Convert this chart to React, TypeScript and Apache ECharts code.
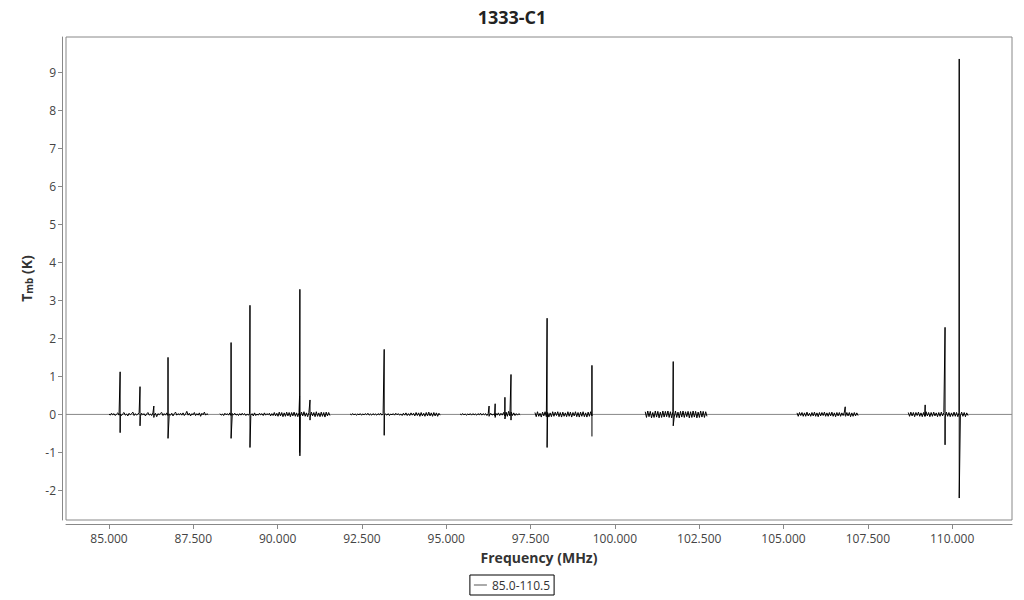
import React, { useEffect, useRef } from "react";
import * as echarts from "echarts";

const chartTitle = "1333-C1";
const seriesName = "85.0-110.5";
const xTicks = [85, 87.5, 90, 92.5, 95, 97.5, 100, 102.5, 105, 107.5, 110];
const yTicks = [-2, -1, 0, 1, 2, 3, 4, 5, 6, 7, 8, 9];
const xMin = 83.725;
const xMax = 111.775;
const yMin = -2.7775;
const yMax = 9.9275;

// observed frequency windows (MHz)
const segmentStarts = [85.0, 88.29, 92.15, 95.41, 97.63, 100.9, 105.4, 108.7];
const segmentEnds = [87.94, 91.55, 94.82, 97.19, 99.32, 102.73, 107.21, 110.47];

// baseline noise (K)
const noise1 = [0.01, -0.02, 0.03, -0.01, 0.02, -0.03, 0.01, 0.04, -0.02, 0.01, -0.03, 0.02, 0.05, -0.02, 0.01, -0.04, 0.03, -0.01, 0.02, 0.06, -0.03, 0.02, -0.02, 0.01, 0.04, -0.05, 0.03, -0.01, 0.02, -0.04, 0.01, 0.05, -0.02, 0.01, -0.03, 0.04, -0.02, 0.03, -0.06, 0.02, -0.01, 0.03, 0.05, -0.03, 0.02, -0.02, 0.04, -0.03, 0.01, -0.02, 0.03, -0.04, 0.02, 0.06, -0.02, 0.02, -0.01, 0.03, -0.02, 0.04, -0.03, 0.01, 0.08, -0.02, 0.03, -0.04, 0.02, -0.01, 0.05, -0.03, 0.02, -0.02, 0.04, -0.05, 0.03, -0.01, 0.06, -0.02, 0.02, -0.01];
const noise2 = [0.02, -0.02, 0.01, -0.03, 0.03, -0.01, 0.02, -0.02, 0.04, -0.03, 0.02, -0.01, 0.03, -0.02, 0.01, -0.03, 0.02, -0.02, 0.03, -0.01, 0.02, -0.03, 0.01, -0.02, 0.03, -0.02, 0.02, -0.04, 0.04, -0.03, 0.01, -0.02, 0.03, -0.01, 0.02, -0.03, 0.04, -0.02, 0.02, -0.01, 0.03, -0.04, 0.02, -0.03, 0.05, -0.04, 0.03, -0.05, 0.06, -0.04, 0.05, -0.06, 0.04, -0.05, 0.06, -0.04, 0.05, -0.06, 0.05, -0.04, 0.06, -0.05, 0.04, -0.06, 0.05, -0.05, 0.06, -0.04, 0.07, -0.05, 0.04, -0.06, 0.05, -0.07, 0.06, -0.04, 0.05, -0.06, 0.07, -0.05, 0.04, -0.06, 0.06, -0.05, 0.05, -0.07, 0.06, -0.04, 0.05, -0.03];
const noise3 = [0.01, -0.01, 0.02, -0.01, 0.01, -0.02, 0.01, -0.01, 0.02, -0.02, 0.01, -0.01, 0.02, -0.01, 0.03, -0.02, 0.01, -0.02, 0.02, -0.01, 0.01, -0.02, 0.02, -0.01, 0.03, -0.02, 0.02, -0.01, 0.01, -0.02, 0.02, -0.03, 0.01, -0.01, 0.02, -0.02, 0.03, -0.01, 0.02, -0.02, 0.01, -0.03, 0.03, -0.02, 0.04, -0.03, 0.02, -0.03, 0.04, -0.02, 0.03, -0.04, 0.05, -0.03, 0.04, -0.05, 0.05, -0.04, 0.03, -0.05, 0.05, -0.04, 0.06, -0.04, 0.04, -0.05, 0.05, -0.04, 0.04, -0.05, 0.03, -0.02];
const noise4 = [0.01, -0.01, 0.02, -0.01, 0.01, -0.02, 0.01, -0.01, 0.02, -0.02, 0.02, -0.01, 0.01, -0.02, 0.02, -0.01, 0.03, -0.02, 0.02, -0.01, 0.02, -0.03, 0.02, -0.02, 0.03, -0.02, 0.01, -0.03, 0.03, -0.02, 0.04, -0.03, 0.03, -0.02, 0.05, -0.04, 0.06, -0.05, 0.08, -0.04, 0.06, -0.03, 0.04, -0.03, 0.02, -0.02, 0.02, -0.01];
const noise5 = [0.05, -0.06, 0.07, -0.05, 0.03, -0.07, 0.06, -0.04, 0.07, -0.06, 0.05, -0.07, 0.04, -0.06, 0.07, -0.05, 0.06, -0.03, 0.07, -0.06, 0.05, -0.07, 0.06, -0.05, 0.04, -0.06, 0.07, -0.05, 0.06, -0.07, 0.05, -0.04, 0.07, -0.06, 0.05, -0.07, 0.06, -0.05, 0.07, -0.06, 0.04, -0.07, 0.06, -0.05, 0.07, -0.04];
const noise6 = [0.07, -0.08, 0.09, -0.06, 0.08, -0.09, 0.05, -0.08, 0.09, -0.07, 0.08, -0.09, 0.06, -0.08, 0.09, -0.07, 0.08, -0.06, 0.09, -0.08, 0.07, -0.09, 0.08, -0.07, 0.09, -0.08, 0.06, -0.09, 0.08, -0.07, 0.09, -0.08, 0.07, -0.06, 0.08, -0.09, 0.07, -0.08, 0.09, -0.07, 0.08, -0.09, 0.06, -0.08, 0.09, -0.07, 0.08, -0.08, 0.07, -0.05];
const noise7 = [0.04, -0.05, 0.05, -0.03, 0.05, -0.05, 0.04, -0.05, 0.06, -0.04, 0.03, -0.05, 0.05, -0.04, 0.06, -0.05, 0.04, -0.06, 0.05, -0.04, 0.05, -0.03, 0.06, -0.05, 0.04, -0.05, 0.05, -0.04, 0.06, -0.05, 0.04, -0.06, 0.05, -0.04, 0.05, -0.05, 0.04, -0.03, 0.06, -0.05, 0.05, -0.04, 0.05, -0.06, 0.04, -0.05, 0.05, -0.04, 0.04, -0.03];
const noise8 = [0.05, -0.05, 0.06, -0.04, 0.05, -0.06, 0.05, -0.03, 0.06, -0.05, 0.04, -0.06, 0.05, -0.05, 0.07, -0.04, 0.05, -0.06, 0.05, -0.05, 0.06, -0.04, 0.04, -0.06, 0.05, -0.05, 0.06, -0.04, 0.05, -0.07, 0.06, -0.05, 0.05, -0.06, 0.04, -0.05, 0.06, -0.05, 0.05, -0.06, 0.05, -0.04, 0.06, -0.05, 0.05, -0.06, 0.04, -0.03];
const segmentNoise = [noise1, noise2, noise3, noise4, noise5, noise6, noise7, noise8];

// emission / absorption features: frequency (MHz), peak (K), trough (K)
const lineFreqs = [85.33, 85.92, 86.33, 86.75, 88.62, 89.18, 90.65, 90.66, 90.96, 93.16, 96.27, 96.45, 96.74, 96.92, 97.99, 99.32, 101.73, 106.83, 109.2, 109.79, 110.21];
const linePeaks = [1.12, 0.73, 0.22, 1.5, 1.89, 2.87, 0.48, 3.29, 0.38, 1.71, 0.22, 0.28, 0.45, 1.05, 2.53, 1.29, 1.39, 0.2, 0.25, 2.29, 9.35];
const lineTroughs = [-0.48, -0.3, -0.08, -0.63, -0.63, -0.87, -1.0, -1.09, -0.15, -0.55, -0.05, -0.08, -0.12, -0.15, -0.87, -0.58, -0.3, -0.03, -0.05, -0.8, -2.2];

function buildData() {
  const out: any[] = [];
  segmentStarts.forEach((start, s) => {
    const end = segmentEnds[s];
    const vals = segmentNoise[s];
    const pts: [number, number][] = [];
    const step = (end - start) / (vals.length - 1);
    vals.forEach((v, i) => pts.push([start + i * step, v]));
    lineFreqs.forEach((f, k) => {
      if (f >= start && f <= end) {
        pts.push([f, linePeaks[k]]);
        pts.push([f + 0.0001, lineTroughs[k]]);
      }
    });
    pts.sort((a, b) => a[0] - b[0]);
    pts.forEach((p) => out.push(p));
    if (s < segmentStarts.length - 1) out.push([end + 0.05, "-"]);
  });
  return out;
}

export default function App() {
  const ref = useRef<HTMLDivElement>(null);
  useEffect(() => {
    if (!ref.current) return;
    const chart = echarts.init(ref.current, undefined, { renderer: "svg" });
    const font = "'Open Sans', sans-serif";
    chart.setOption({
      animation: false,
      backgroundColor: "#ffffff",
      textStyle: { fontFamily: font },
      title: {
        text: chartTitle,
        left: "center",
        top: 3,
        textStyle: { fontSize: 18, fontWeight: "bold", color: "#222", fontFamily: font },
      },
      grid: {
        left: 66,
        right: 12,
        top: 37,
        bottom: 80,
        show: true,
        borderColor: "#888",
        borderWidth: 1,
        backgroundColor: "#fff",
      },
      legend: {
        data: [seriesName],
        left: "center",
        top: 575,
        borderColor: "#000",
        borderWidth: 1,
        borderRadius: 0,
        padding: [4, 4, 4, 4],
        itemWidth: 13,
        itemHeight: 1,
        icon: "rect",
        textStyle: { fontSize: 12, color: "#333", fontFamily: font },
      },
      xAxis: {
        type: "value",
        min: xMin,
        max: xMax,
        offset: 4,
        name: "Frequency (MHz)",
        nameLocation: "middle",
        nameGap: 26,
        nameTextStyle: { fontSize: 14, fontWeight: "bold", color: "#333", fontFamily: font },
        axisLine: { show: true, onZero: false, lineStyle: { color: "#888", width: 1 } },
        axisTick: { show: true, length: 5, lineStyle: { color: "#888" }, customValues: xTicks },
        axisLabel: {
          customValues: xTicks,
          color: "#444",
          fontSize: 12,
          margin: 8,
          fontFamily: font,
          formatter: (v: number) => v.toFixed(3),
        },
        splitLine: { show: false },
      },
      yAxis: {
        type: "value",
        min: yMin,
        max: yMax,
        offset: 4,
        name: "{t|T}{s|mb}{t| (K)}",
        nameLocation: "middle",
        nameGap: 28,
        nameRotate: 90,
        nameTextStyle: {
          color: "#333",
          fontFamily: font,
          rich: {
            t: { fontSize: 14, fontWeight: "bold", color: "#333", fontFamily: font },
            s: { fontSize: 10, fontWeight: "bold", color: "#333", fontFamily: font, verticalAlign: "bottom", padding: [6, 0, 0, 0] },
          },
        },
        axisLine: { show: true, onZero: false, lineStyle: { color: "#888", width: 1 } },
        axisTick: { show: true, length: 4, lineStyle: { color: "#888" }, customValues: yTicks },
        axisLabel: {
          customValues: yTicks,
          color: "#444",
          fontSize: 12,
          margin: 6,
          fontFamily: font,
          formatter: (v: number) => String(Math.round(v)),
        },
        splitLine: { show: false },
      },
      series: [
        {
          name: "zero",
          type: "line",
          data: [[xMin, 0], [xMax, 0]],
          symbol: "none",
          lineStyle: { color: "#888", width: 1 },
          z: 1,
          silent: true,
        },
        {
          name: seriesName,
          type: "line",
          data: buildData(),
          symbol: "none",
          showSymbol: false,
          connectNulls: false,
          color: "#555",
          lineStyle: { color: "#000", width: 1 },
          z: 2,
        },
      ],
    });
    return () => chart.dispose();
  }, []);
  return (
    <div
      ref={ref}
      style={{ position: "fixed", left: 0, top: 0, width: 1024, height: 600 }}
    />
  );
}
